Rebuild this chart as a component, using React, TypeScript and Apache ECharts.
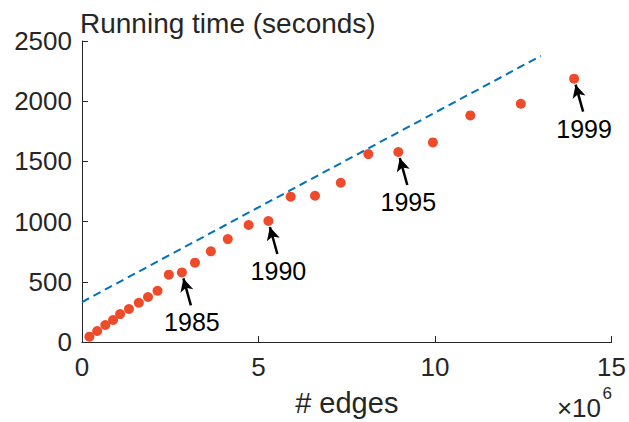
import React, { useEffect, useRef } from "react";
import * as echarts from "echarts";

const years = [1975, 1976, 1977, 1978, 1979, 1980, 1981, 1982, 1983, 1984, 1985, 1986, 1987, 1988, 1989, 1990, 1991, 1992, 1993, 1994, 1995, 1996, 1997, 1998, 1999];
const edgesMillions = [0.21, 0.43, 0.66, 0.88, 1.08, 1.33, 1.61, 1.87, 2.14, 2.46, 2.83, 3.2, 3.65, 4.13, 4.72, 5.28, 5.91, 6.6, 7.33, 8.11, 8.96, 9.94, 11.0, 12.43, 13.94];
const runningTimeSec = [44, 91, 141, 183, 232, 274, 326, 374, 426, 559, 578, 659, 753, 855, 972, 1005, 1207, 1215, 1323, 1561, 1578, 1658, 1882, 1979, 2187];
const fitX = [0, 13];
const fitY = [332, 2377];
const labeledYears = [1985, 1990, 1995, 1999];
const xTicks = [0, 5, 10, 15];
const yTicks = [0, 500, 1000, 1500, 2000, 2500];

const FONT = "'Liberation Sans', Arial, Helvetica, sans-serif";
const AXIS_COLOR = "#262626";

export default function App() {
  const ref = useRef<HTMLDivElement>(null);
  useEffect(() => {
    if (!ref.current) return;
    const chart = echarts.init(ref.current, undefined, { renderer: "svg" });
    const pts = edgesMillions.map((x, i) => {
      const y = runningTimeSec[i];
      const yr = years[i];
      if (labeledYears.includes(yr)) {
        return {
          value: [x, y],
          label: {
            show: true,
            formatter: String(yr),
            position: "inside",
            offset: [10, 50],
            fontSize: 25,
            color: "#000",
            fontFamily: FONT,
          },
        };
      }
      return { value: [x, y] };
    });
    const arrows = labeledYears.map((yr) => {
      const i = years.indexOf(yr);
      const x = edgesMillions[i];
      const y = runningTimeSec[i];
      return [{ coord: [x + 0.254, y - 274] }, { coord: [x + 0.042, y - 50] }];
    });
    chart.setOption({
      animation: false,
      backgroundColor: "#fff",
      title: {
        text: "Running time (seconds)",
        left: 80,
        top: 9,
        padding: 0,
        textStyle: { fontSize: 28, fontWeight: "normal", color: AXIS_COLOR, fontFamily: FONT },
      },
      grid: { left: 82, right: 17, top: 41, bottom: 80, containLabel: false },
      xAxis: {
        type: "value",
        min: xTicks[0],
        max: xTicks[xTicks.length - 1],
        interval: 5,
        name: "# edges",
        nameLocation: "middle",
        nameGap: 46,
        nameTextStyle: { fontSize: 29, color: AXIS_COLOR, fontFamily: FONT },
        axisLine: { show: true, onZero: false, lineStyle: { color: AXIS_COLOR, width: 1 } },
        axisTick: { show: true, inside: true, length: 6, lineStyle: { color: AXIS_COLOR } },
        axisLabel: {
          fontSize: 26,
          color: AXIS_COLOR,
          fontFamily: FONT,
          margin: 12,
          formatter: (v: number) => String(v),
        },
        splitLine: { show: false },
      },
      yAxis: {
        type: "value",
        min: yTicks[0],
        max: yTicks[yTicks.length - 1],
        interval: 500,
        axisLine: { show: true, onZero: false, lineStyle: { color: AXIS_COLOR, width: 1 } },
        axisTick: { show: true, inside: true, length: 6, lineStyle: { color: AXIS_COLOR } },
        axisLabel: { fontSize: 26, color: AXIS_COLOR, fontFamily: FONT, margin: 10, formatter: (v: number) => String(v) },
        splitLine: { show: false },
      },
      graphic: [
        {
          type: "text",
          x: 601,
          y: 408,
          style: { text: "×10", fontSize: 26, fill: AXIS_COLOR, fontFamily: FONT, align: "right", verticalAlign: "middle" },
        },
        {
          type: "text",
          x: 612,
          y: 393,
          style: { text: "6", fontSize: 17, fill: AXIS_COLOR, fontFamily: FONT, align: "right", verticalAlign: "middle" },
        },
      ],
      series: [
        {
          type: "line",
          data: fitX.map((x, i) => [x, fitY[i]]),
          showSymbol: false,
          symbol: "none",
          lineStyle: { color: "#0072BD", width: 2, type: [8, 5] },
          silent: true,
          z: 2,
        },
        {
          type: "scatter",
          data: pts,
          symbol: "circle",
          symbolSize: 10,
          itemStyle: { color: "#EE4B2B", opacity: 1 },
          z: 3,
          markLine: {
            silent: true,
            symbol: ["none", "arrow"],
            symbolSize: [10, 13],
            label: { show: false },
            lineStyle: { color: "#000", width: 2.5, type: "solid" },
            data: arrows,
          },
        },
      ],
    });
    return () => chart.dispose();
  }, []);
  return (
    <div
      ref={ref}
      style={{ position: "absolute", left: 0, top: 0, width: 629, height: 422 }}
    />
  );
}
